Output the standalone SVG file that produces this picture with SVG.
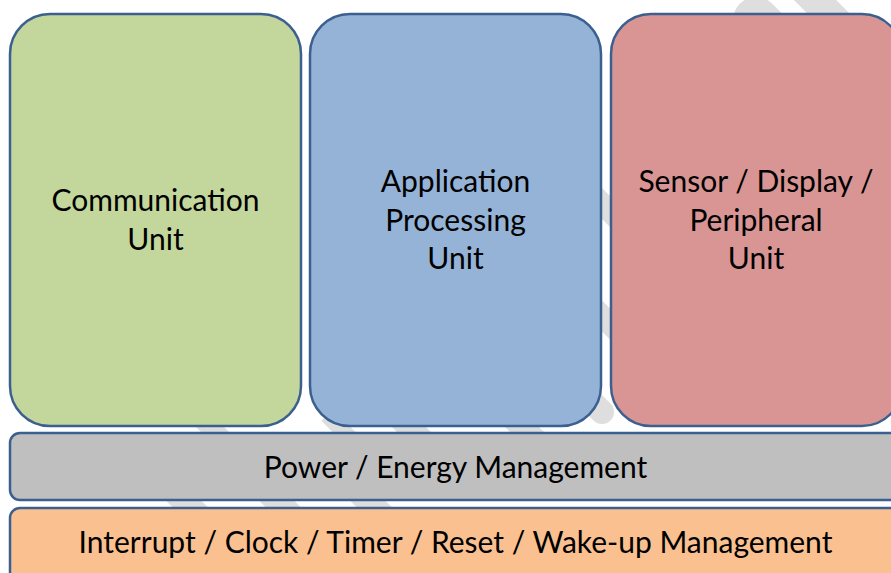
<svg xmlns="http://www.w3.org/2000/svg" width="891" height="573" viewBox="0 0 891 573">
<style>
.box{stroke:#3b6090;stroke-width:2.5}
.wm{stroke:#dedede;fill:none}
.t{font-family:Lato,"Liberation Sans",sans-serif;font-size:30px;fill:#000;text-anchor:middle}
</style>
<rect width="891" height="573" fill="#ffffff"/>
<g id="watermark">
<line class="wm" x1="756" y1="20" x2="800" y2="64" stroke-width="46" stroke-linecap="round"/>
<line class="wm" x1="790" y1="-25" x2="900" y2="85" stroke-width="30"/>
<line class="wm" x1="590" y1="191.5" x2="622" y2="223.5" stroke-width="22"/>
<line class="wm" x1="590" y1="304" x2="622" y2="336" stroke-width="22"/>
<line class="wm" x1="560" y1="370" x2="602" y2="412" stroke-width="24" stroke-linecap="round"/>
<line class="wm" x1="200" y1="417" x2="226" y2="443" stroke-width="20"/>
<line class="wm" x1="327" y1="415" x2="353" y2="441" stroke-width="16"/>
<line class="wm" x1="399" y1="417" x2="425" y2="443" stroke-width="24"/>
<line class="wm" x1="512" y1="417" x2="538" y2="443" stroke-width="24"/>
<line class="wm" x1="174" y1="491" x2="200" y2="517" stroke-width="25"/>
<line class="wm" x1="267" y1="491" x2="293" y2="517" stroke-width="25"/>
<line class="wm" x1="358" y1="491" x2="384" y2="517" stroke-width="25"/>
</g>
<g id="communication-unit">
<rect class="box" x="10" y="14" width="291" height="412" rx="40" ry="40" fill="#c3d69b"/>
<text class="t" x="155.5" y="211">Communication</text>
<text class="t" x="155.5" y="250">Unit</text>
</g>
<g id="application-processing-unit">
<rect class="box" x="310" y="14" width="291" height="412" rx="40" ry="40" fill="#95b3d7"/>
<text class="t" x="455.5" y="192">Application</text>
<text class="t" x="455.5" y="231">Processing</text>
<text class="t" x="455.5" y="269">Unit</text>
</g>
<g id="sensor-display-peripheral-unit">
<rect class="box" x="611" y="14" width="291" height="412" rx="40" ry="40" fill="#d99594"/>
<text class="t" x="756" y="192">Sensor / Display /</text>
<text class="t" x="756" y="231">Peripheral</text>
<text class="t" x="756" y="269">Unit</text>
</g>
<g id="power-energy-management">
<rect class="box" x="10" y="433" width="900" height="67" rx="10" ry="10" fill="#bfbfbf"/>
<text class="t" x="455.5" y="478">Power / Energy Management</text>
</g>
<g id="interrupt-clock-timer-reset-wakeup-management">
<rect class="box" x="10" y="508" width="900" height="80" rx="10" ry="10" fill="#fac090"/>
<text class="t" x="455.5" y="553">Interrupt / Clock / Timer / Reset / Wake-up Management</text>
</g>
<g id="connectors"></g>
</svg>
